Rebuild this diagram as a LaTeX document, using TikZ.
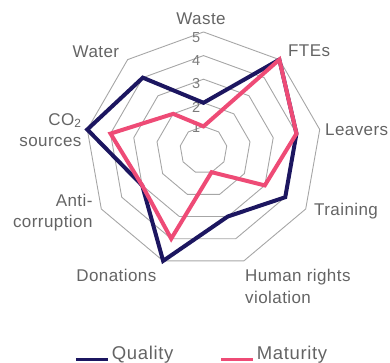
\documentclass[tikz,border=0pt]{standalone}
\usepackage{fontspec}
\setmainfont{Liberation Sans}
\definecolor{navy}{HTML}{1C1660}
\definecolor{rose}{HTML}{EE4B76}
\definecolor{txt}{HTML}{646464}
\definecolor{ring}{HTML}{A6A6A6}

\begin{document}
\begin{tikzpicture}[x=1pt,y=1pt,
	lbl/.style={text=txt,inner sep=0pt,font=\fontsize{17}{21.6}\selectfont\addfontfeatures{LetterSpace=2.5}},
	leg/.style={text=txt,inner sep=0pt,anchor=base west,font=\fontsize{18.5}{20}\selectfont\addfontfeatures{LetterSpace=3.5}},
	num/.style={text=txt!85,inner sep=0pt,anchor=north east,font=\fontsize{14.5}{14.5}\selectfont},
	grid/.style={draw=ring,line width=0.9pt},
	qual/.style={draw=navy,line width=4pt},
	mat/.style={draw=rose,line width=4pt},
	key/.style={line width=3pt}]
	\useasboundingbox (-203.5,150) rectangle (186.5,-213);
	% rings
	\draw[grid] (90:23.6)--(50:23.6)--(10:23.6)--(-30:23.6)--(-70:23.6)--(-110:23.6)--(-150:23.6)--(170:23.6)--(130:23.6)--cycle;
	\draw[grid] (90:47.2)--(50:47.2)--(10:47.2)--(-30:47.2)--(-70:47.2)--(-110:47.2)--(-150:47.2)--(170:47.2)--(130:47.2)--cycle;
	\draw[grid] (90:70.8)--(50:70.8)--(10:70.8)--(-30:70.8)--(-70:70.8)--(-110:70.8)--(-150:70.8)--(170:70.8)--(130:70.8)--cycle;
	\draw[grid] (90:94.4)--(50:94.4)--(10:94.4)--(-30:94.4)--(-70:94.4)--(-110:94.4)--(-150:94.4)--(170:94.4)--(130:94.4)--cycle;
	\draw[grid] (90:118)--(50:118)--(10:118)--(-30:118)--(-70:118)--(-110:118)--(-150:118)--(170:118)--(130:118)--cycle;
	\node[num] (n1) at (-3,27.5) {1};
	\node[num] (n2) at (-3,47.5) {2};
	\node[num] (n3) at (-3,71.5) {3};
	\node[num] (n4) at (-3,94.5) {4};
	\node[num] (n5) at (-3,117.5) {5};
	% quality
	\coordinate (q1) at (90:47.2);
	\coordinate (q2) at (50:118);
	\coordinate (q3) at (10:94.4);
	\coordinate (q4) at (-30:94.4);
	\coordinate (q5) at (-70:70.8);
	\coordinate (q6) at (-110:118);
	\coordinate (q7) at (-150:70.8);
	\coordinate (q8) at (170:118);
	\coordinate (q9) at (130:94.4);
	\draw[qual] (q1)--(q2)--(q3)--(q4)--(q5)--(q6)--(q7)--(q8)--(q9)--cycle;
	% maturity
	\coordinate (m1) at (90:23.6);
	\coordinate (m2) at (50:118);
	\coordinate (m3) at (10:94.4);
	\coordinate (m4) at (-30:70.8);
	\coordinate (m5) at (-70:23.6);
	\coordinate (m6) at (-110:94.4);
	\coordinate (m7) at (-150:70.8);
	\coordinate (m8) at (170:94.4);
	\coordinate (m9) at (130:47.2);
	\draw[mat] (m1)--(m2)--(m3)--(m4)--(m5)--(m6)--(m7)--(m8)--(m9)--cycle;
	% labels
	\node[lbl,anchor=base] (waste) at (-2.5,125) {Waste};
	\node[lbl,anchor=base west] (ftes) at (84.5,93.3) {FTEs};
	\node[lbl,anchor=base west] (leavers) at (121.5,14) {Leavers};
	\node[lbl,anchor=base west] (training) at (110.5,-66) {Training};
	\node[lbl,anchor=north west,align=left] (human) at (41.5,-119) {Human rights\\violation};
	\node[lbl,anchor=base east] (donations) at (-47,-131.7) {Donations};
	\node[lbl,anchor=north east,align=right] (anti) at (-110.8,-43.5) {Anti-\\corruption};
	\node[lbl,anchor=north east,align=right] (co2) at (-121.8,36.7) {CO\textsubscript{2}\\sources};
	\node[lbl,anchor=base east] (water) at (-84.2,92.7) {Water};
	% legend
	\coordinate (k1) at (-127.5,-209);
	\coordinate (k2) at (-95.2,-209);
	\coordinate (k3) at (17.5,-209);
	\coordinate (k4) at (49.8,-209);
	\draw[key,navy] (k1)--(k2);
	\draw[key,rose] (k3)--(k4);
	\node[leg] (quality) at (-91.8,-209.5) {Quality};
	\node[leg] (maturity) at (53.2,-209.5) {Maturity};
\end{tikzpicture}
\end{document}
